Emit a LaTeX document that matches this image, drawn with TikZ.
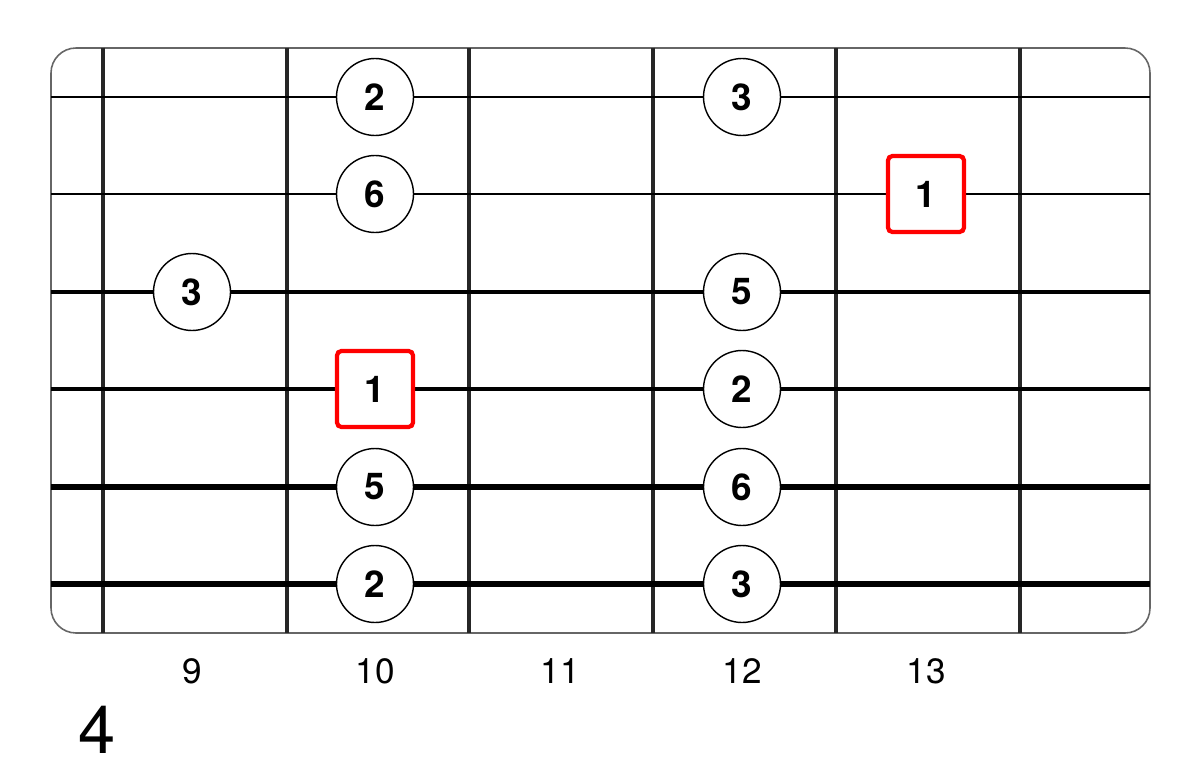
\documentclass[tikz,border=0pt]{standalone}
\usepackage{fontspec}
\setmainfont{TeX Gyre Heros}
\usetikzlibrary{positioning}
\tikzset{
	note/.style={circle,draw,line width=0.8pt,fill=white,minimum size=1.54cm,inner sep=0pt,font=\bfseries\fontsize{21}{21}\selectfont},
	root/.style={rectangle,draw=red,line width=2.4pt,rounded corners=2.5pt,fill=white,minimum size=1.52cm,inner sep=0pt,font=\bfseries\fontsize{21}{21}\selectfont},
	fretnum/.style={anchor=base,font=\fontsize{20}{20}\selectfont}
}
\begin{document}
\begin{tikzpicture}[x=0.02cm,y=-0.02cm]
		\useasboundingbox (0,0) rectangle (1200,767);
		\draw [black!60,line width=0.9pt,rounded corners=0.5cm] (51,48) rectangle (1150,633);
		\foreach \x in {103,287,469,653,836,1020}
		\draw [black!85,line width=2.1pt] (\x,48)--(\x,633);
		\foreach \y/\w in {97/1.4,194/1.7,292/2.1,389/2.6,487/3.2,584/3.9}
		\draw [line width=\w pt] (51,\y)--(1150,\y);
		% notes
		\node (a1) at (375,97) [note]{2};
		\node (a2) at (742,97) [note]{3};
		\node (b1) at (375,194) [note]{6};
		\node (b2) at (926,194) [root]{1};
		\node (c1) at (192,292) [note]{3};
		\node (c2) at (742,292) [note]{5};
		\node (d1) at (375,389) [root]{1};
		\node (d2) at (742,389) [note]{2};
		\node (e1) at (375,487) [note]{5};
		\node (e2) at (742,487) [note]{6};
		\node (f1) at (375,584) [note]{2};
		\node (f2) at (742,584) [note]{3};
		% fret numbers
		\node (n9) at (192,683) [fretnum]{9};
		\node (n10) at (375,683) [fretnum]{10};
		\node (n11) at (560,683) [fretnum]{11};
		\node (n12) at (742,683) [fretnum]{12};
		\node (n13) at (926,683) [fretnum]{13};
		\node (pos) at (97,753) [anchor=base,font=\fontsize{38}{38}\selectfont]{4};
	\end{tikzpicture}
\end{document}
